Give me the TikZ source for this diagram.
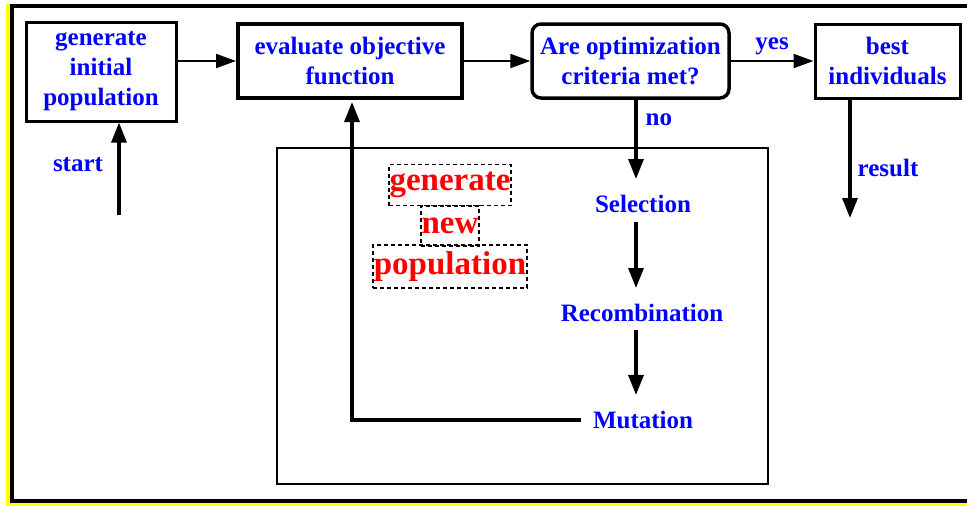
\documentclass[tikz,border=0pt]{standalone}
\usepackage{fontspec}
\setmainfont{Liberation Serif}
\usetikzlibrary{arrows.meta}
\definecolor{tblue}{RGB}{0,0,255}
\definecolor{tred}{RGB}{255,0,0}
\definecolor{tyellow}{RGB}{255,255,0}
\tikzset{
  btext/.style={text=tblue,font=\fontsize{25}{30}\selectfont\bfseries,align=center,inner sep=0pt},
  rtext/.style={text=tred,font=\fontsize{33}{38}\selectfont\bfseries,draw=black,dashed,line width=1.5pt,dash pattern=on 4pt off 3pt,inner sep=0pt,minimum height=41pt},
  boxA/.style={btext,draw=black,line width=3pt,minimum width=#1,minimum height=74pt},
  harrow/.style={-{Triangle[length=20pt,width=14pt]},line width=2pt},
  varrow/.style={-{Triangle[length=20pt,width=15pt]},line width=3.2pt},
}
\begin{document}
\begin{tikzpicture}[x=1pt,y=-1pt]
\useasboundingbox (0,0) rectangle (967,506);
% frame
\fill[tyellow] (6,4) rectangle (967,506);
\draw[line width=4pt,fill=white] (11.5,6) rectangle (980,500.5);
% inner rectangle
\draw[line width=2pt] (277,148) rectangle (768,484);
% main boxes
\node[boxA=150pt,minimum height=99pt] (gen) at (101,71.5) {generate\\initial\\population};
\node[boxA=224pt,line width=4pt] (eval) at (350,61) {evaluate objective\\function};
\node[boxA=197pt,line width=3.5pt,rounded corners=9pt] (crit) at (630.5,61) {Are optimization\\criteria met?};
\node[boxA=145pt] (best) at (887.5,61) {best\\individuals};
% inner labels
\node[btext] (sel) at (643,204) {Selection};
\node[btext] (rec) at (642,313) {Recombination};
\node[btext] (mut) at (643,420) {Mutation};
% red dashed texts
\node[rtext,minimum width=122pt] (g1) at (450,185) {generate};
\node[rtext,minimum width=58pt,minimum height=40pt] (g2) at (450,226) {new};
\node[rtext,minimum width=154pt,minimum height=43pt] (g3) at (450,266.5) {population};
% coordinates
\coordinate (st) at (119,215);
\coordinate (col) at (636,0);
\coordinate (res) at (850,218);
\coordinate (loopx) at (352,0);
% horizontal arrows
\draw[harrow] (gen.east |- eval.west) -- (eval.west);
\draw[harrow] (eval.east) -- (crit.west);
\draw[harrow] (crit.east) -- node[btext,above=5pt] (yes) {yes} (best.west);
% vertical arrows
\draw[varrow] (st) -- (st |- gen.south);
\node[btext] (startl) at (78,165) {start};
\draw[varrow] (crit.south -| col) -- node[btext,right=8pt,pos=0.25] (no) {no} ([yshift=16pt]sel.north -| col);
\draw[varrow] ([yshift=-9pt]sel.south -| col) -- ([yshift=16pt]rec.north -| col);
\draw[varrow] ([yshift=-8pt]rec.south -| col) -- ([yshift=16pt]mut.north -| col);
\draw[varrow] (best.south -| res) -- (res);
\node[btext] (resl) at (888,168) {result};
% loop back
\draw[varrow] ([xshift=-12pt]mut.west) -| ([yshift=-2pt]eval.south -| loopx);
\end{tikzpicture}
\end{document}
